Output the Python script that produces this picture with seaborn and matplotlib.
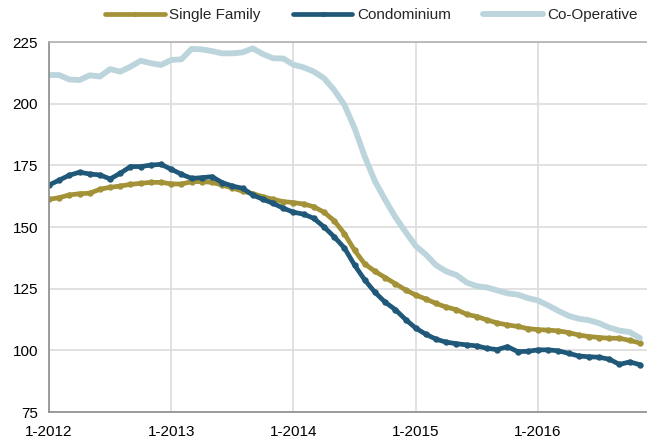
import numpy as np
import pandas as pd
import seaborn as sns
import matplotlib
matplotlib.use("Agg")
import matplotlib.pyplot as plt

# monthly index values, Jan 2012 .. Nov 2016
single_family = [161.2, 161.9, 163.0, 163.5, 163.7, 165.3, 166.1, 166.6, 167.3, 167.7,
                 168.1, 168.1, 167.5, 167.4, 168.4, 168.4, 168.1, 167.0, 165.8, 164.5,
                 163.5, 162.3, 161.2, 160.3, 159.9, 159.3, 158.2, 156.0, 152.5, 147.3,
                 140.5, 135.0, 132.0, 129.5, 127.0, 124.5, 122.4, 120.8, 119.0, 117.5,
                 116.5, 114.6, 113.7, 112.3, 111.1, 110.3, 109.7, 108.8, 108.4, 108.2,
                 107.9, 107.2, 106.2, 105.6, 105.2, 104.9, 104.9, 104.0, 103.0]
condominium = [167.0, 169.0, 171.0, 172.2, 171.5, 171.1, 169.5, 171.8, 174.5, 174.5,
               175.1, 175.4, 173.4, 171.4, 169.7, 170.0, 170.4, 168.0, 166.6, 165.7,
               163.0, 161.2, 159.6, 157.6, 156.0, 155.2, 153.5, 150.0, 146.0, 141.5,
               134.5, 128.5, 123.5, 119.5, 116.5, 112.5, 109.0, 106.5, 104.5, 103.3,
               102.7, 102.2, 101.8, 100.8, 100.3, 101.5, 99.5, 99.6, 100.2, 100.2,
               99.8, 98.8, 97.7, 97.4, 97.2, 96.4, 94.3, 95.3, 94.2]
co_operative = [211.6, 211.6, 209.8, 209.6, 211.5, 211.0, 214.0, 213.0, 215.0, 217.4,
                216.4, 215.7, 217.7, 218.0, 222.2, 222.0, 221.3, 220.4, 220.4, 220.8,
                222.4, 220.1, 218.4, 218.3, 215.8, 214.7, 213.0, 210.3, 205.5, 199.5,
                190.0, 178.5, 168.5, 161.0, 154.0, 148.0, 142.3, 138.8, 134.5, 132.0,
                130.5, 127.5, 126.0, 125.5, 124.3, 123.1, 122.6, 121.2, 120.2, 118.2,
                116.0, 114.0, 112.8, 112.2, 111.0, 109.2, 108.0, 107.4, 105.0]
year_labels = ["1-2012", "1-2013", "1-2014", "1-2015", "1-2016"]
y_ticks = [75, 100, 125, 150, 175, 200, 225]

months = np.arange(len(single_family))
df = pd.DataFrame({"month": months, "Single Family": single_family,
                   "Condominium": condominium, "Co-Operative": co_operative})

sns.set_style("white")
plt.rcParams["font.family"] = ["Liberation Sans", "DejaVu Sans"]

fig = plt.figure(figsize=(6.47, 4.43), dpi=100)
ax = fig.add_axes([49 / 647, 1 - 412 / 443, 1 - 49 / 647, (412 - 42) / 443])

series = [("Single Family", "#a39237", 3.4, "o"),
          ("Condominium", "#1f5878", 3.4, "o"),
          ("Co-Operative", "#bcd4dc", 4.2, None)]
for name, color, lw, mk in series:
    sns.lineplot(data=df, x="month", y=name, ax=ax, color=color, lw=lw,
                 marker=mk, markersize=4.6, markeredgewidth=0, label=name)

ax.set_xlim(0, 58.7)
ax.set_ylim(75, 225)
ax.set_xticks(np.arange(0, 60, 12))
ax.set_xticklabels(year_labels)
ax.set_yticks(y_ticks)
ax.set_xlabel("")
ax.set_ylabel("")
ax.grid(True, color="#dcdcdc", lw=1.2)
ax.set_axisbelow(True)
for side in ["left", "bottom"]:
    ax.spines[side].set_color("#8c8c8c")
    ax.spines[side].set_linewidth(1.2)
ax.spines["top"].set_color("#b0b0b0")
ax.spines["top"].set_linewidth(1.2)
ax.spines["right"].set_visible(False)
ax.tick_params(axis="both", direction="out", length=5, width=1, color="#8c8c8c",
               labelsize=11, labelcolor="#000000", pad=3)
ax.tick_params(axis="x", pad=4)

ax.legend(loc="center", bbox_to_anchor=(0.574, 0.966), bbox_transform=fig.transFigure,
          ncol=3, frameon=False, fontsize=11, handlelength=3.9, handletextpad=0.3,
          columnspacing=2.1, borderpad=0, markerscale=0.8)

fig.savefig("out.png", dpi=100)
